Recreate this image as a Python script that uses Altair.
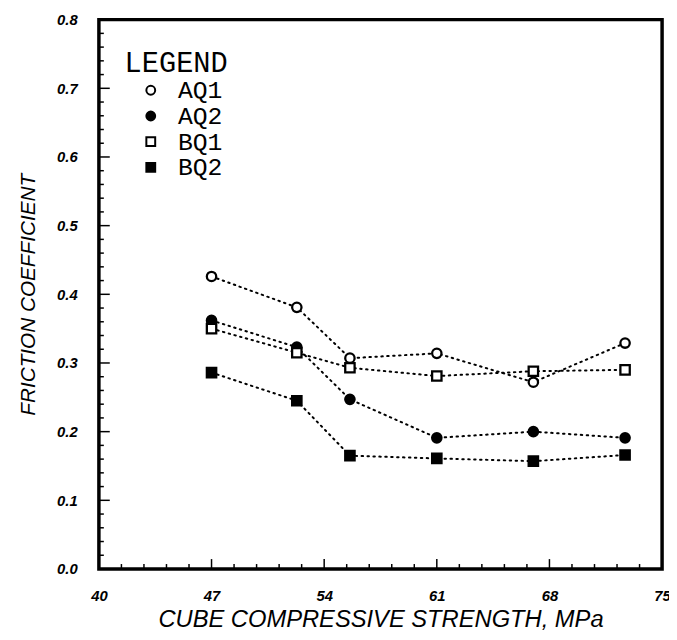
import altair as alt
import pandas as pd

# ---- data ----
strength = [47.0, 52.3, 55.6, 61.0, 67.0, 72.7]
aq1 = [0.426, 0.381, 0.307, 0.314, 0.272, 0.329]
aq2 = [0.362, 0.323, 0.247, 0.191, 0.200, 0.191]
bq1 = [0.350, 0.315, 0.293, 0.281, 0.288, 0.290]
bq2 = [0.286, 0.245, 0.165, 0.161, 0.157, 0.166]
series_names = ["AQ1", "AQ2", "BQ1", "BQ2"]
series_fill = ["white", "black", "white", "black"]
series_shape = ["circle", "circle", "square", "square"]

x_ticks = [40, 47, 54, 61, 68, 75]
x_minor = [41.4, 42.8, 44.2, 45.6, 48.4, 49.8, 51.2, 52.6, 55.4, 56.8, 58.2, 59.6,
           62.4, 63.8, 65.2, 66.6, 69.4, 70.8, 72.2, 73.6]
y_ticks = [0.0, 0.1, 0.2, 0.3, 0.4, 0.5, 0.6, 0.7, 0.8]
y_minor = [0.02, 0.04, 0.06, 0.08, 0.12, 0.14, 0.16, 0.18, 0.22, 0.24, 0.26, 0.28,
           0.32, 0.34, 0.36, 0.38, 0.42, 0.44, 0.46, 0.48, 0.52, 0.54, 0.56, 0.58,
           0.62, 0.64, 0.66, 0.68, 0.72, 0.74, 0.76, 0.78]

rows = []
for name, vals in zip(series_names, [aq1, aq2, bq1, bq2]):
    for xv, yv in zip(strength, vals):
        rows.append({"x": xv, "y": yv, "series": name})
df = pd.DataFrame(rows)

W, H = 570, 556
xscale = alt.Scale(domain=[40, 75], nice=False, zero=False)
yscale = alt.Scale(domain=[0, 0.8], nice=False, zero=True)

xaxis = alt.Axis(values=x_ticks, format="d", ticks=False, domain=False, grid=False,
                 labelFlush=False,
                 labelFont="Liberation Sans", labelFontSize=15, labelFontWeight="bold",
                 labelFontStyle="italic", labelColor="black", labelPadding=20,
                 title="CUBE COMPRESSIVE STRENGTH, MPa", titleFont="Liberation Sans",
                 titleFontSize=24, titleFontStyle="italic", titleFontWeight="normal",
                 titleColor="black", titlePadding=4)
yaxis = alt.Axis(values=y_ticks, format=".1f", ticks=False, domain=False, grid=False,
                 labelFlush=False,
                 labelFont="Liberation Sans", labelFontSize=15, labelFontWeight="bold",
                 labelFontStyle="italic", labelColor="black", labelPadding=22,
                 title="FRICTION COEFFICIENT", titleFont="Liberation Sans",
                 titleFontSize=21, titleFontStyle="italic", titleFontWeight="normal",
                 titleColor="black", titlePadding=18)

base = alt.Chart(df)

lines = base.mark_line(color="black", strokeWidth=2, strokeDash=[1.5, 4.5],
                       strokeCap="round").encode(
    x=alt.X("x:Q", scale=xscale, axis=xaxis),
    y=alt.Y("y:Q", scale=yscale, axis=yaxis),
    detail="series:N",
)

legend = alt.Legend(title="LEGEND", orient="none", legendX=26, legendY=30,
                    titleFont="Liberation Mono", titleFontSize=29, titleFontWeight="normal",
                    titleColor="black", titlePadding=0,
                    labelFont="Liberation Mono", labelFontSize=25, labelColor="black",
                    labelOffset=15, symbolOffset=14, rowPadding=0,
                    symbolSize=80, symbolStrokeWidth=2,
                    padding=0)

points = base.mark_point(filled=True, size=90, strokeWidth=2.3, opacity=1).encode(
    x=alt.X("x:Q", scale=xscale),
    y=alt.Y("y:Q", scale=yscale),
    fill=alt.Fill("series:N", scale=alt.Scale(domain=series_names, range=series_fill),
                  legend=legend),
    stroke=alt.Stroke("series:N", scale=alt.Scale(domain=series_names, range=["black"] * 4),
                      legend=legend),
    shape=alt.Shape("series:N", scale=alt.Scale(domain=series_names, range=series_shape),
                    legend=legend),
)

xmaj = alt.Chart(pd.DataFrame({"v": x_ticks})).mark_rule(color="black", strokeWidth=1.5).encode(
    x=alt.X("v:Q", scale=xscale), y=alt.value(H), y2=alt.value(H - 10))
xmin = alt.Chart(pd.DataFrame({"v": x_minor})).mark_rule(color="black", strokeWidth=1.5).encode(
    x=alt.X("v:Q", scale=xscale), y=alt.value(H), y2=alt.value(H - 5))
ymaj = alt.Chart(pd.DataFrame({"v": y_ticks})).mark_rule(color="black", strokeWidth=1.5).encode(
    y=alt.Y("v:Q", scale=yscale), x=alt.value(0), x2=alt.value(11))
ymin = alt.Chart(pd.DataFrame({"v": y_minor})).mark_rule(color="black", strokeWidth=1.5).encode(
    y=alt.Y("v:Q", scale=yscale), x=alt.value(0), x2=alt.value(5))

chart = alt.layer(xmin, xmaj, ymin, ymaj, lines, points).properties(
    width=W, height=H,
    background="white",
    autosize=alt.AutoSizeParams(type="none"),
    padding={"left": 92, "top": 8, "right": 7, "bottom": 60},
).configure_view(stroke="black", strokeWidth=3.5)

chart.save("out.html", embed_options={"renderer": "svg", "actions": False})
